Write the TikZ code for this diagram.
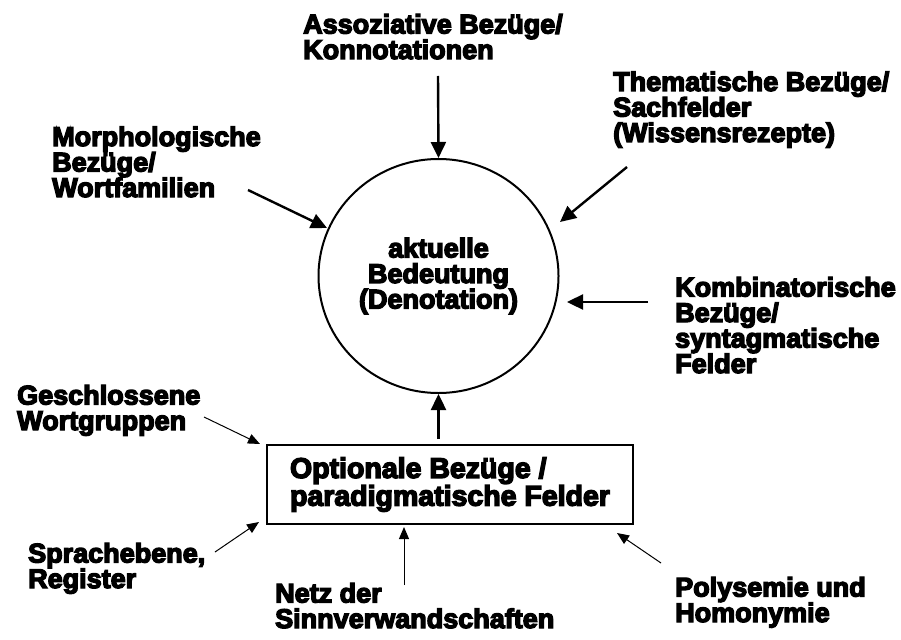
\documentclass[tikz,border=0pt]{standalone}
\usepackage{fontspec}
\setmainfont{Liberation Sans}[BoldFeatures={FakeBold=5}]
\usetikzlibrary{arrows.meta,shapes.geometric}
\begin{document}
\begin{tikzpicture}[x=1pt,y=-1pt,
  lbl/.style={inner sep=0pt, anchor=base west, align=left,
    font=\fontsize{27}{25.5}\selectfont\bfseries},
  heavy/.style={line width=2.4pt, -{Triangle[length=16pt,width=15pt]}},
  light/.style={line width=1pt, -{Triangle[length=12pt,width=10pt]}}]
\useasboundingbox (0,0) rectangle (901,639);

% central meaning and the box of optional relations
\node[draw, line width=2pt, ellipse, inner sep=0pt, minimum width=240, minimum height=234,
      align=center, font=\fontsize{27}{25.5}\selectfont\bfseries]
  (circ) at (438.5,276) {aktuelle\\Bedeutung\\(Denotation)};
\node[draw, line width=2pt, inner sep=0pt, minimum width=366, minimum height=79,
      align=left, font=\fontsize{28.5}{26}\selectfont\bfseries]
  (box) at (450,484.5) {Optionale Bezüge /\\paradigmatische Felder};

% surrounding labels (anchored at the baseline of their last line)
\node[lbl] (assoc)  at (303,59)  {Assoziative Bezüge/\\Konnotationen};
\node[lbl] (them)   at (613,142) {Thematische Bezüge/\\Sachfelder\\(Wissensrezepte)};
\node[lbl] (morph)  at (52,197)  {Morphologische\\Bezüge/\\Wortfamilien};
\node[lbl] (kombi)  at (675,373) {Kombinatorische\\Bezüge/\\syntagmatische\\Felder};
\node[lbl] (gesch)  at (17,430)  {Geschlossene\\Wortgruppen};
\node[lbl] (sprach) at (28,588)  {Sprachebene,\\Register};
\node[lbl] (netz)   at (275,628) {Netz der\\Sinnverwandschaften};
\node[lbl] (poly)   at (675,622) {Polysemie und\\Homonymie};

% arrow end points
\coordinate (aS) at (438,76);
\coordinate (tS) at (627,167);  \coordinate (tE) at (560,222);
\coordinate (mS) at (248,190);  \coordinate (mE) at (327,228);
\coordinate (kS) at (648,302);  \coordinate (kE) at (567,302);
\coordinate (gS) at (204,417);  \coordinate (gE) at (260,444);
\coordinate (sS) at (215,552);  \coordinate (sE) at (259,522);
\coordinate (nS) at (404,585);  \coordinate (nE) at (404,527);
\coordinate (pS) at (661,563);  \coordinate (pE) at (617,533);

% arrows into the central meaning
\draw[heavy] (aS) -- (circ.north);
\draw[heavy] (tS) -- (tE);
\draw[heavy] (mS) -- (mE);
\draw[heavy] (kS) -- (kE);
\draw[heavy, shorten <=5pt] (box.north -| circ.south) -- (circ.south);

% arrows into the box
\draw[light] (gS) -- (gE);
\draw[light] (sS) -- (sE);
\draw[light] (nS) -- (nE);
\draw[light] (pS) -- (pE);
\end{tikzpicture}
\end{document}
